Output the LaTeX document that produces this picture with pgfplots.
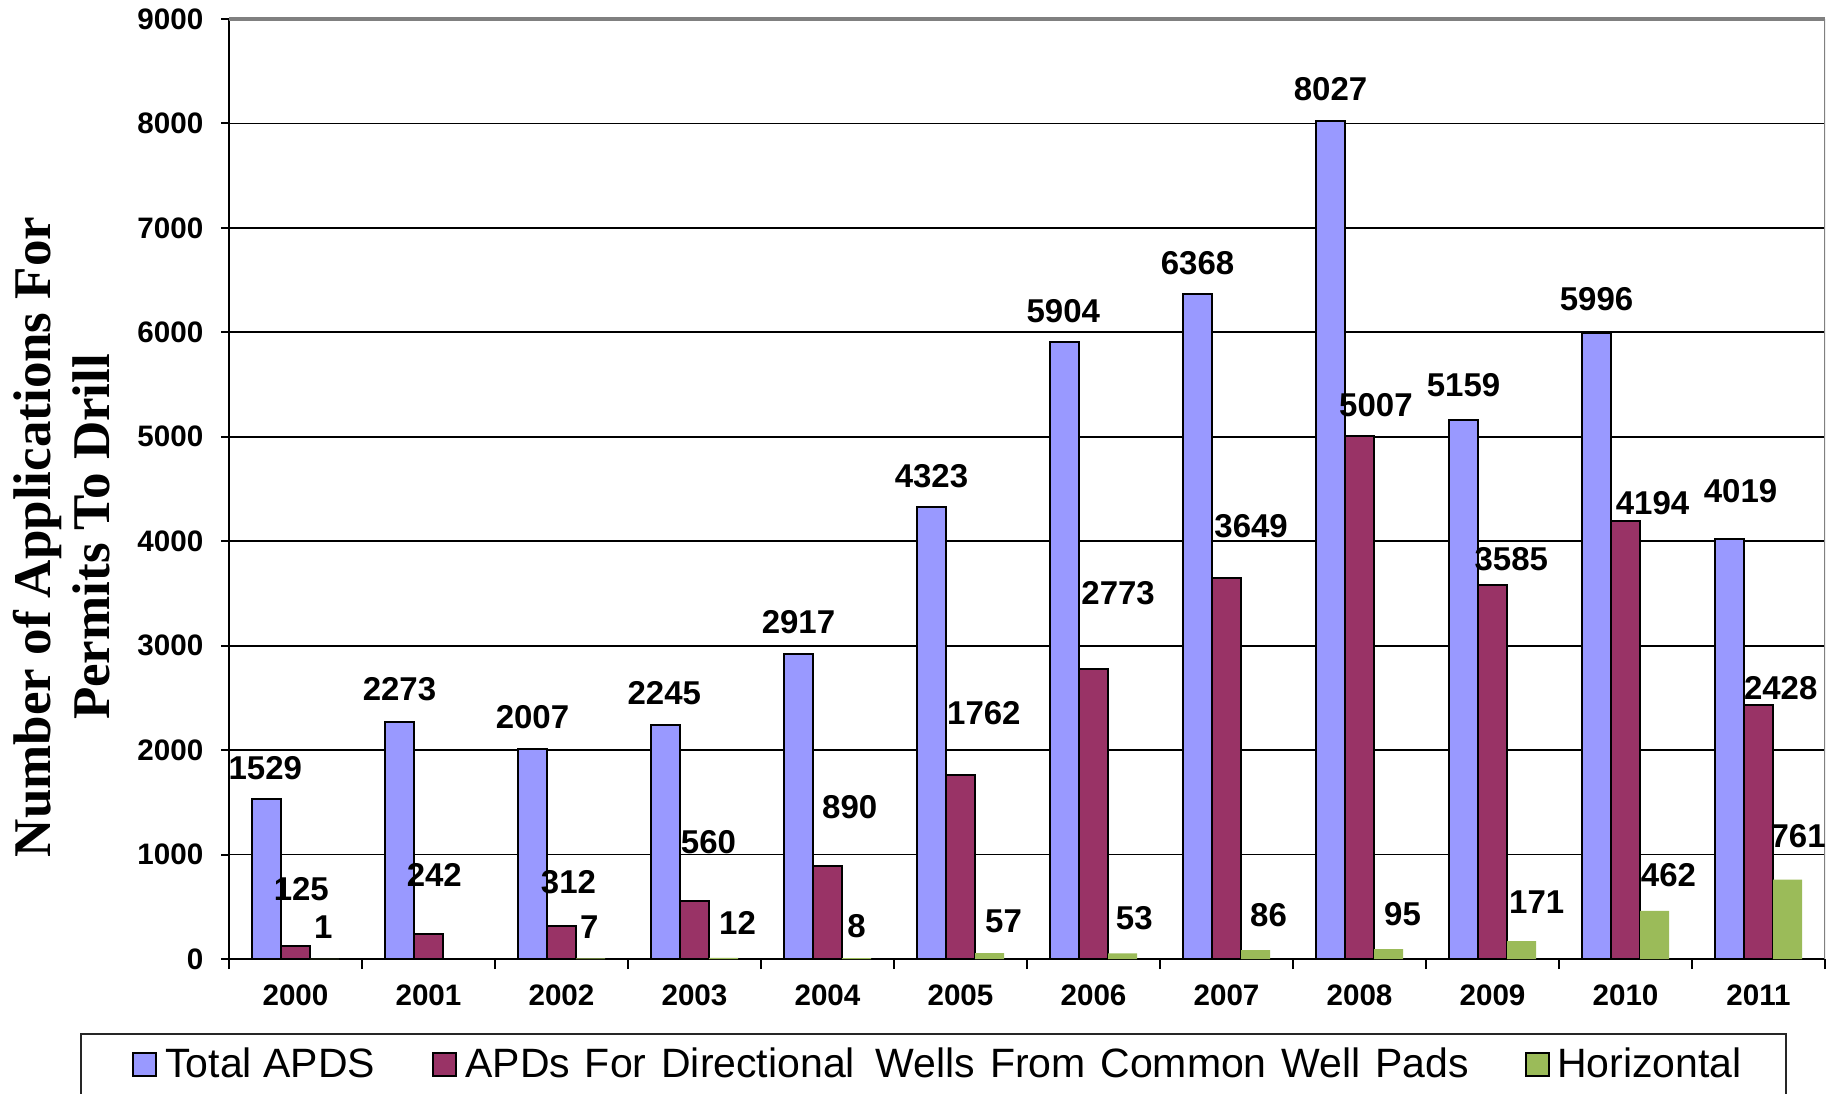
\documentclass[border=0pt]{standalone}
\usepackage{fontspec}
\setmainfont{Liberation Sans}
\newfontfamily\tnr{Liberation Serif}
\usepackage{pgfplots}
\usepackage{pgfplotstable}
\pgfplotsset{compat=1.18}
\definecolor{cblue}{HTML}{9999FF}
\definecolor{cred}{HTML}{993366}
\definecolor{cgreen}{HTML}{9BBB59}

\pgfplotstableread{
x y dx dy
0 1529 -0.6 15.8
1 2273 0 16.3
2 2007 0 16.1
3 2245 -0.6 15.8
4 2917 0 16.1
5 4323 0 15.8
6 5904 -0.6 15.6
7 6368 0 15.3
8 8027 0 15.6
9 5159 0 17.6
10 5996 0 17.0
11 4019 5.5 24.1
}\totaltable

\pgfplotstableread{
x y dx dy
0 125 2.9 28.2
1 242 2.9 29.6
2 312 3.5 22.3
3 560 7.0 29.3
4 890 11.1 29.3
5 1762 11.7 31.1
6 2773 12.3 38.1
7 3649 12.3 25.8
8 5007 8.2 15.3
9 3585 9.4 12.9
10 4194 13.5 8.8
11 2428 11.1 8.8
}\directtable

\pgfplotstableread{
x y dx dy
0 1 -0.6 15.8
2 7 -0.6 15.8
3 12 7.0 17.6
4 8 0 15.8
5 57 7.0 15.8
6 53 5.9 17.6
7 86 6.5 17.6
8 95 7.0 17.3
9 171 7.6 19.4
10 462 7.0 17.6
11 761 5.3 21.7
}\horiztable

\pgfplotsset{
  lab/.style={
    nodes near coords,
    visualization depends on={\thisrow{dx}\as\labdx},
    visualization depends on={\thisrow{dy}\as\labdy},
    every node near coord/.append style={anchor=center, text=black, fill=none, draw=none,
      font=\fontsize{16.5}{18}\selectfont\bfseries, xshift=\labdx pt, yshift=\labdy pt}
  }
}

\begin{document}
\begin{tikzpicture}
\begin{axis}[
  scale only axis, width=798pt, height=470pt,
  xmin=-0.5, xmax=11.5, ymin=0, ymax=9000,
  enlargelimits=false,
  axis x line=bottom, axis y line=left,
  axis line style={-, black, line width=1.2pt},
  tick align=outside,
  ybar=0pt, bar width=14.5pt,
  xtick={0,...,11},
  xticklabels={2000,2001,2002,2003,2004,2005,2006,2007,2008,2009,2010,2011},
  major x tick style={draw=none},
  minor xtick={-0.5,0.5,...,11.5},
  minor tick length=5pt,
  major tick length=4pt,
  every tick/.style={black, line width=1pt},
  ytick={0,1000,...,8000},
  extra y ticks={9000},
  extra y tick style={ymajorgrids=true, major grid style={black!50, line width=1.6pt}},
  ymajorgrids=true,
  major grid style={black, line width=0.9pt},
  ticklabel style={font=\fontsize{14.8}{16}\selectfont\bfseries},
  xticklabel style={yshift=-5.3pt},
  yticklabel style={xshift=-5.3pt},
  /pgf/number format/.cd, 1000 sep={}, assume math mode=true,
  /pgfplots/.cd,
  ylabel={Number of Applications For\\Permits To Drill},
  ylabel style={font=\tnr\bfseries\fontsize{26.5}{29.5}\selectfont, align=center,
    at={(axis description cs:-0.1046,0.449)}, anchor=center},
  legend columns=3,
  legend cell align=left,
  legend image code/.code={\path (0pt,0pt); \draw[#1, line width=1pt] (5.3pt,-5.75pt) rectangle (16.8pt,5.75pt); \path (19.2pt,0pt);},
  legend style={at={(axis description cs:0,0)}, anchor=north west,
    xshift=-74.5pt, yshift=-37pt, draw=black!85, line width=1pt,
    font=\fontsize{20.5}{24}\selectfont, inner xsep=20pt, inner ysep=5pt,
    /tikz/every even column/.append style={column sep=21pt}},
]
\addplot[fill=cblue, draw=black, line width=1pt, lab] table[x=x,y=y]{\totaltable};
\addplot[fill=cred, draw=black, line width=1pt, lab] table[x=x,y=y]{\directtable};
\addplot[fill=cgreen, draw=none, lab] table[x=x,y=y]{\horiztable};
\legend{Total APDS, {\spaceskip=7.4pt APDs For Directional\hspace{3pt} Wells From Common Well Pads}, Horizontal\hspace{15.7pt}}
\draw[black!50, line width=1.2pt] (rel axis cs:1,0) -- (rel axis cs:1,1);
\end{axis}
\pgfresetboundingbox
\path[use as bounding box] (-114.5pt,-67pt) rectangle (805.5pt,479.5pt);
\end{tikzpicture}
\end{document}
